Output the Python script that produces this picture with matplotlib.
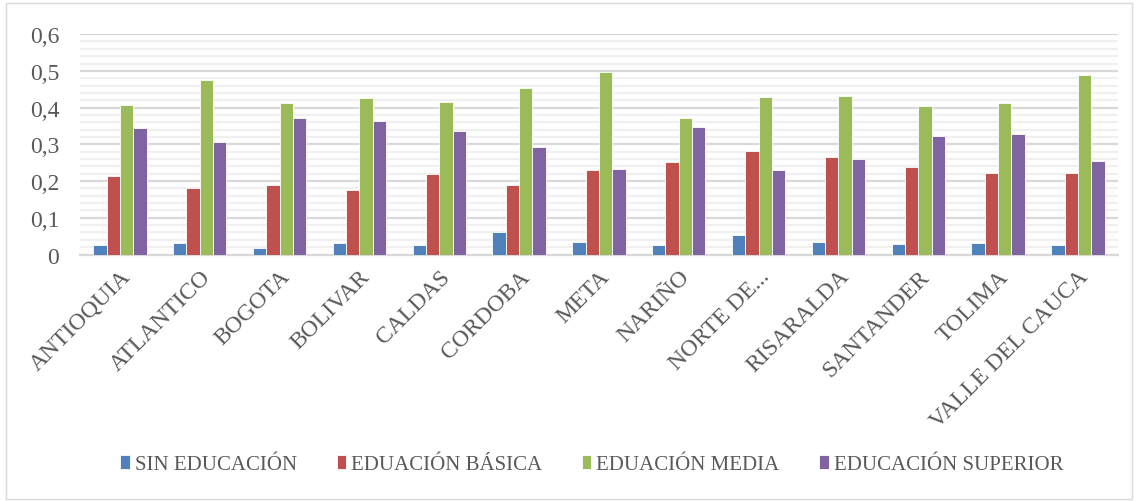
import numpy as np
import matplotlib.pyplot as plt
from matplotlib.patches import Rectangle

departamentos = ['ANTIOQUIA', 'ATLANTICO', 'BOGOTA', 'BOLIVAR', 'CALDAS', 'CORDOBA', 'META',
                 'NARIÑO', 'NORTE DE...', 'RISARALDA', 'SANTANDER', 'TOLIMA', 'VALLE DEL CAUCA']
sin_educacion = [0.026, 0.032, 0.019, 0.030, 0.025, 0.060, 0.035, 0.026, 0.053, 0.035, 0.029, 0.031, 0.027]
basica = [0.215, 0.182, 0.190, 0.175, 0.218, 0.189, 0.230, 0.252, 0.281, 0.266, 0.239, 0.221, 0.222]
media = [0.406, 0.474, 0.412, 0.426, 0.416, 0.453, 0.497, 0.371, 0.430, 0.431, 0.404, 0.413, 0.490]
superior = [0.345, 0.307, 0.373, 0.364, 0.335, 0.292, 0.232, 0.346, 0.229, 0.259, 0.324, 0.329, 0.255]
series_names = ['SIN EDUCACIÓN', 'EDUACIÓN BÁSICA', 'EDUACIÓN MEDIA', 'EDUCACIÓN SUPERIOR']
colores = ['#4f81bd', '#c0504d', '#9bbb59', '#8064a2']

plt.rcParams['font.family'] = ['Liberation Serif', 'DejaVu Serif']

fig = plt.figure(figsize=(11.38, 5.02), dpi=100)
fig.patches.append(Rectangle((0.005, 0.004), 0.99, 0.988, transform=fig.transFigure,
                             fill=False, edgecolor='#d9d9d9', lw=1))
ax = fig.add_axes([0.0703, 0.491, 0.912, 0.439])

x = np.arange(len(departamentos))
w = 0.167
for i, (vals, name, c) in enumerate(zip([sin_educacion, basica, media, superior], series_names, colores)):
    ax.bar(x + (i - 1.5) * w, vals, w, color=c, label=name, edgecolor='white', linewidth=0.6, zorder=3)

ax.set_xlim(-0.5, len(departamentos) - 0.5)
ax.set_ylim(0, 0.6)
ax.set_yticks(np.arange(0, 0.61, 0.1))
ax.set_yticklabels(['0'] + [('%.1f' % v).replace('.', ',') for v in np.arange(0.1, 0.61, 0.1)])
ax.set_yticks(np.arange(0, 0.6, 0.02), minor=True)
ax.grid(axis='y', which='major', color='#d9d9d9', lw=1.6, zorder=1)
ax.grid(axis='y', which='minor', color='#f0f0f0', lw=1.6, zorder=0)
ax.tick_params(axis='y', which='both', length=0, labelsize=17, labelcolor='#595959', pad=15)
ax.tick_params(axis='x', length=0, labelsize=17, labelcolor='#595959', pad=8)
ax.set_xticks(x)
ax.set_xticklabels(departamentos, rotation=45, ha='right', rotation_mode='anchor')
for s in ['top', 'right', 'left']:
    ax.spines[s].set_visible(False)
ax.spines['bottom'].set_color('#d9d9d9')
ax.spines['bottom'].set_linewidth(1.6)

leg = fig.legend(loc='center', bbox_to_anchor=(0.52, 0.072), ncol=4, frameon=False,
                 fontsize=15, handlelength=0.45, handleheight=0.65, handletextpad=0.25, columnspacing=1.9)
for t in leg.get_texts():
    t.set_color('#595959')

fig.savefig('out.png', dpi=100)
